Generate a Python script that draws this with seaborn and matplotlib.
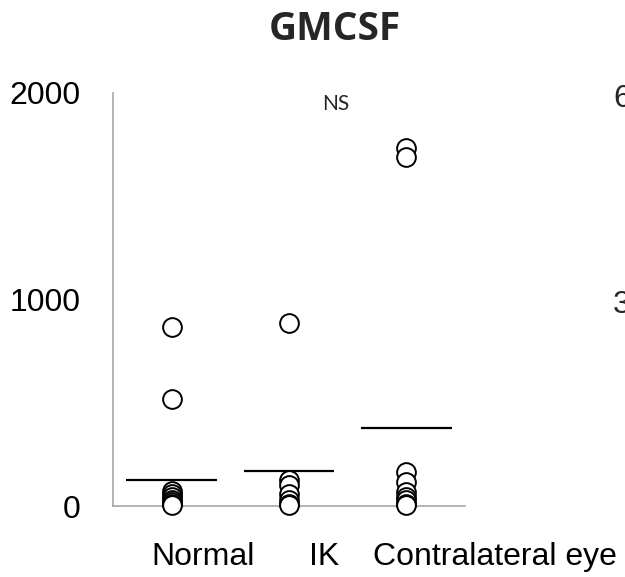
import numpy as np
import pandas as pd
import seaborn as sns
import matplotlib
matplotlib.use("Agg")
import matplotlib.pyplot as plt
from matplotlib.transforms import ScaledTranslation

# ---- data ----
categories = ["Normal", "IK", "Contralateral eye"]
normal_vals = [868, 517, 75, 60, 45, 30, 20, 8, 3]
ik_vals = [888, 125, 100, 60, 30, 10, 4]
contra_vals = [1734, 1690, 166, 118, 70, 45, 30, 12, 4]
mean_vals = [126, 171, 379]
y_ticks = [0, 1000, 2000]
title_text = "GMCSF"
sig_text = "NS"
right_labels = ["6", "3"]

df = pd.DataFrame({
    "group": [categories[0]] * len(normal_vals) + [categories[1]] * len(ik_vals)
             + [categories[2]] * len(contra_vals),
    "value": normal_vals + ik_vals + contra_vals,
})

sns.set_style("white")
plt.rcParams["font.family"] = ["Liberation Sans", "DejaVu Sans"]

W, H = 625, 577
fig = plt.figure(figsize=(W / 100, H / 100), dpi=100)
ax = fig.add_axes([113 / W, (H - 506) / H, 352 / W, 413 / H])

sns.stripplot(data=df, x="group", y="value", order=categories, jitter=False,
              color="white", edgecolor="black", linewidth=1.4, size=13.5, ax=ax,
              zorder=3)
for c in ax.collections:
    c.set_clip_on(False)

xs = np.arange(len(categories))
ax.hlines(mean_vals, xs - 0.385, xs + 0.385, color="black", linewidth=1.6, zorder=2)

ax.set_xlim(-0.5, 2.5)
ax.set_ylim(0, 2000)
ax.set_yticks(y_ticks)
ax.set_yticklabels([str(v) for v in y_ticks])
ax.set_xlabel("")
ax.set_ylabel("")

axis_col = "#a6a6a6"
for s in ["top", "right"]:
    ax.spines[s].set_visible(False)
for s in ["left", "bottom"]:
    ax.spines[s].set_color(axis_col)
    ax.spines[s].set_linewidth(1.2)

ax.set_xticks(xs)
ax.set_xticklabels(categories)
ax.set_xticks(np.arange(len(categories) + 1) - 0.5, minor=True)
ax.tick_params(axis="x", which="major", length=0, pad=26, labelsize=23, colors="black")
ax.tick_params(axis="x", which="minor", length=7.5, width=1.2, color=axis_col, direction="out")
ax.tick_params(axis="y", which="major", length=7.5, width=1.2, color=axis_col,
               direction="out", pad=16, labelsize=23, labelcolor="black")

shifts_px = [31, 35, 89]
for lab, dx in zip(ax.get_xticklabels(), shifts_px):
    lab.set_transform(lab.get_transform() + ScaledTranslation(dx / 100, 0, fig.dpi_scale_trans))

fig.text(335 / W, 1 - 30 / H, title_text, ha="center", va="center",
         fontsize=28, fontweight="bold", family=["Open Sans", "DejaVu Sans"])
fig.text(336 / W, 1 - 104 / H, sig_text, ha="center", va="center",
         fontsize=15, family=["Lato", "DejaVu Sans"])
fig.text(613 / W, 1 - 99 / H, right_labels[0], ha="left", va="center", fontsize=23)
fig.text(613 / W, 1 - 305 / H, right_labels[1], ha="left", va="center", fontsize=23)

fig.savefig("out.png", dpi=100)
